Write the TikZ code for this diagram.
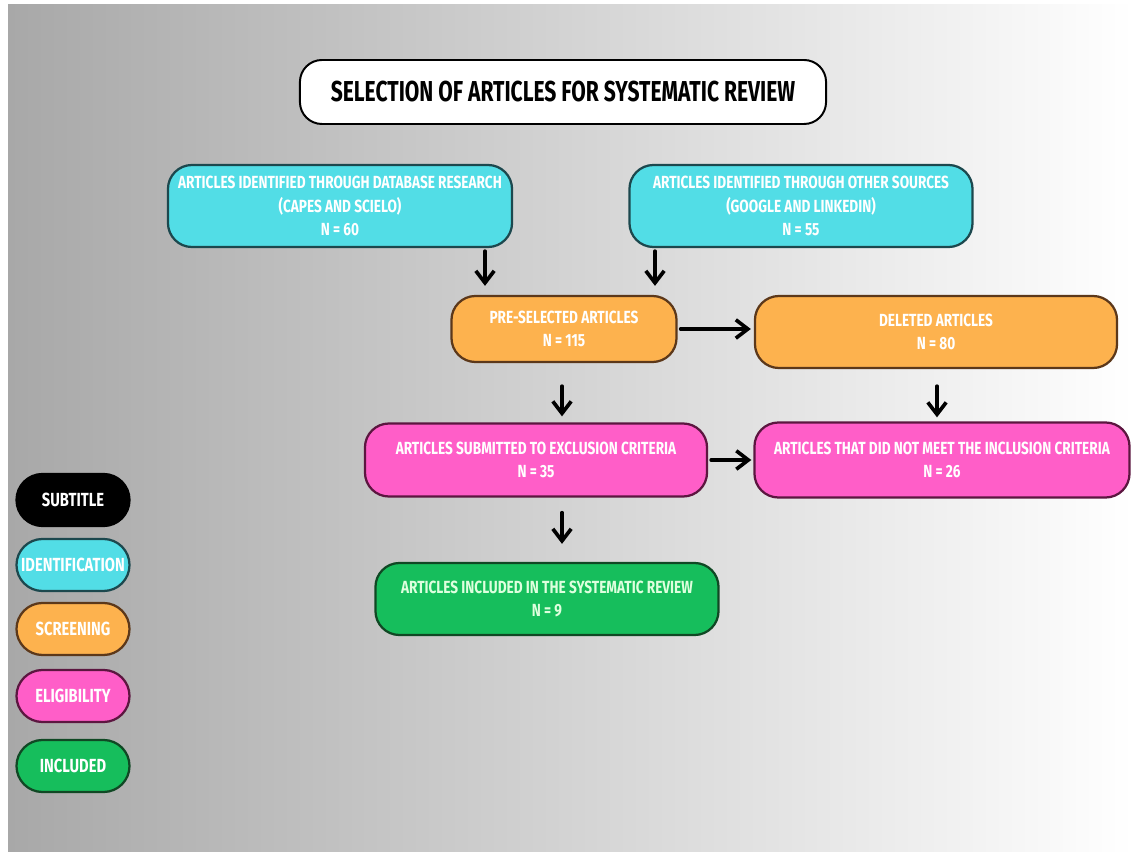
\documentclass[tikz,border=0pt]{standalone}
\usepackage{fontspec}
\newfontfamily\headfont{Fira Sans}[FakeStretch=0.73]
\newfontfamily\boxfont{Fira Sans}[FakeStretch=0.775]
\usetikzlibrary{arrows.meta}
\definecolor{bgleft}{RGB}{168,168,168}
\definecolor{identfill}{RGB}{82,221,230}
\definecolor{identline}{RGB}{28,72,78}
\definecolor{screenfill}{RGB}{253,178,78}
\definecolor{screenline}{RGB}{92,56,26}
\definecolor{eligfill}{RGB}{255,94,200}
\definecolor{eligline}{RGB}{92,22,64}
\definecolor{inclfill}{RGB}{22,190,92}
\definecolor{inclline}{RGB}{16,72,36}
\definecolor{incltext}{RGB}{222,255,222}
\begin{document}
\begin{tikzpicture}[x=0.025cm, y=-0.025cm, line join=round, line cap=round,
	>={Straight Barb[length=3mm,width=4.6mm]},
	box/.style={draw, line width=1.6pt, rounded corners=0.6cm, inner sep=0pt, align=center, text=white,
		font=\boxfont\bfseries\fontsize{12.5}{16.5}\selectfont},
	ident/.style={box, fill=identfill, draw=identline},
	screen/.style={box, fill=screenfill, draw=screenline},
	elig/.style={box, fill=eligfill, draw=eligline},
	incl/.style={box, fill=inclfill, draw=inclline, text=incltext},
	legend/.style={draw, line width=1.6pt, rounded corners=0.65cm, inner sep=0pt, minimum width=2.825cm,
		minimum height=1.3cm, text=white, font=\boxfont\bfseries\fontsize{13.5}{15}\selectfont},
	flow/.style={->, line width=2.6pt, black}]
	\useasboundingbox (0,0) rectangle (1134,852);
	\shade[left color=bgleft, right color=white] (8,5) rectangle (1134,852);
	% title
	\node[draw, fill=white, line width=1.4pt, rounded corners=0.55cm, minimum width=13.15cm, minimum height=1.6cm,
		font=\headfont\bfseries\fontsize{20.5}{24}\selectfont] (title) at (563,92) {SELECTION OF ARTICLES FOR SYSTEMATIC REVIEW};
	% identification
	\node[ident, minimum width=8.6cm, minimum height=2.05cm] (dbase) at (340,206)
		{ARTICLES IDENTIFIED THROUGH DATABASE RESEARCH\\(CAPES AND SCIELO)\\N = 60};
	\node[ident, minimum width=8.575cm, minimum height=2.05cm] (other) at (801,206)
		{ARTICLES IDENTIFIED THROUGH OTHER SOURCES\\(GOOGLE AND LINKEDIN)\\N = 55};
	% screening
	\node[screen, minimum width=5.625cm, minimum height=1.65cm] (presel) at (564,329) {PRE-SELECTED ARTICLES\\N = 115};
	\node[screen, minimum width=9.05cm, minimum height=1.8cm] (deleted) at (936,332) {DELETED ARTICLES\\N = 80};
	% eligibility
	\node[elig, minimum width=8.55cm, minimum height=1.825cm] (submit) at (536,460) {ARTICLES SUBMITTED TO EXCLUSION CRITERIA\\N = 35};
	\node[elig, minimum width=9.375cm, minimum height=1.875cm] (notmet) at (942,460) {ARTICLES THAT DID NOT MEET THE INCLUSION CRITERIA\\N = 26};
	% included
	\node[incl, minimum width=8.575cm, minimum height=1.8cm] (included) at (547,599) {ARTICLES INCLUDED IN THE SYSTEMATIC REVIEW\\N = 9};
	% arrows
	\coordinate (xa) at (485,0);
	\coordinate (xb) at (655,0);
	\coordinate (xc) at (562,0);
	\coordinate (xd) at (937,0);
	\draw[flow, shorten <=0.075cm, shorten >=0.225cm] (dbase.south -| xa) -- (presel.north -| xa);
	\draw[flow, shorten <=0.075cm, shorten >=0.225cm] (other.south -| xb) -- (presel.north -| xb);
	\draw[flow, shorten <=0.075cm, shorten >=0.075cm] (presel.east) -- (deleted.west |- presel.east);
	\draw[flow, shorten <=0.575cm, shorten >=0.15cm] (presel.south -| xc) -- (submit.north -| xc);
	\draw[flow, shorten <=0.425cm, shorten >=0.1cm] (deleted.south -| xd) -- (notmet.north -| xd);
	\draw[flow, shorten <=0.075cm, shorten >=0.05cm] (submit.east) -- (notmet.west |- submit.east);
	\draw[flow, shorten <=0.375cm, shorten >=0.45cm] (submit.south -| xc) -- (included.north -| xc);
	% subtitle
	\foreach \y/\t/\f/\d [count=\i] in {500/SUBTITLE/black/black, 565/IDENTIFICATION/identfill/identline,
		629/SCREENING/screenfill/screenline, 696/ELIGIBILITY/eligfill/eligline, 766/INCLUDED/inclfill/inclline}
		\node[legend, fill=\f, draw=\d] (leg\i) at (73,\y) {\t};
\end{tikzpicture}
\end{document}
